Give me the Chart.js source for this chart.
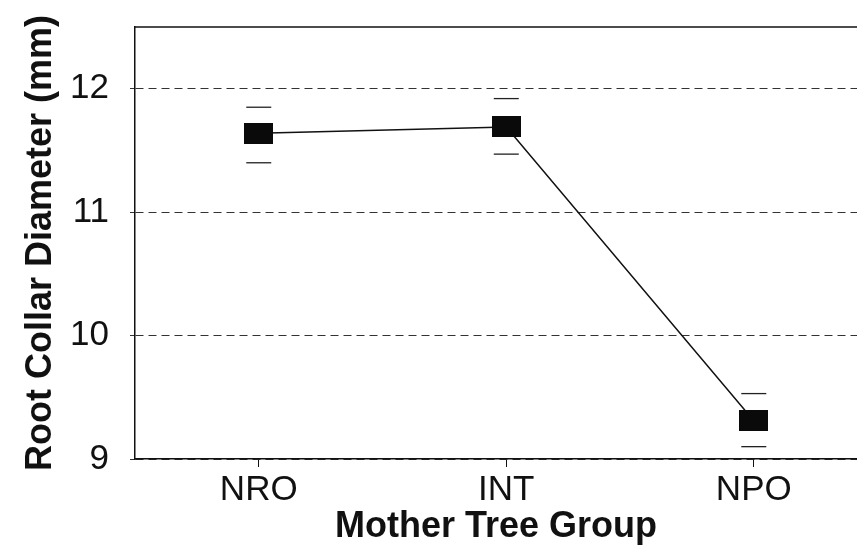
<!DOCTYPE html>
<html>
<head>
<meta charset="utf-8">
<script src="https://cdn.jsdelivr.net/npm/chart.js@4.4.1/dist/chart.umd.min.js"></script>
<style>
  html, body { margin: 0; padding: 0; background: #fff; overflow: hidden; }
  #wrap { width: 857px; height: 545px; }
</style>
</head>
<body>
<div id="wrap"><canvas id="rcdChart" width="857" height="545"></canvas></div>
<script>
// Mother tree groups and mean root collar diameter (mm)
const groups = ["NRO", "INT", "NPO"];
const groupPos = [1, 2, 3];
const meanRcd = [11.64, 11.69, 9.31];
const upperRcd = [11.85, 11.92, 9.53];
const lowerRcd = [11.40, 11.47, 9.10];
const yTicks = [9, 10, 11, 12];

const ctx = document.getElementById("rcdChart").getContext("2d");

// filled rectangle marker like the original plot
const marker = document.createElement("canvas");
marker.width = 29;
marker.height = 21;
const mctx = marker.getContext("2d");
mctx.fillStyle = "#0a0a0a";
mctx.fillRect(0, 0, 29, 21);

const toPoints = vals => vals.map((v, i) => ({ x: groupPos[i], y: v }));

// solid frame line along the top of the plot area
const topBorder = {
  id: "topBorder",
  afterDraw(chart) {
    const { ctx, chartArea } = chart;
    ctx.save();
    ctx.strokeStyle = "#111";
    ctx.lineWidth = 1.5;
    ctx.beginPath();
    ctx.moveTo(chartArea.left, chartArea.top);
    ctx.lineTo(chartArea.right, chartArea.top);
    ctx.stroke();
    ctx.restore();
  }
};

new Chart(ctx, {
  type: "line",
  data: {
    datasets: [
      {
        label: "Mean",
        data: toPoints(meanRcd),
        borderColor: "#111",
        borderWidth: 1.5,
        pointStyle: marker,
        tension: 0,
        order: 1
      },
      {
        label: "Upper",
        data: toPoints(upperRcd),
        showLine: false,
        pointStyle: "line",
        pointRadius: 12.5,
        borderColor: "#222",
        borderWidth: 1.3,
        order: 2
      },
      {
        label: "Lower",
        data: toPoints(lowerRcd),
        showLine: false,
        pointStyle: "line",
        pointRadius: 12.5,
        borderColor: "#222",
        borderWidth: 1.3,
        order: 2
      }
    ]
  },
  options: {
    responsive: false,
    animation: false,
    layout: { autoPadding: false, padding: { left: 0, top: 27, right: 0, bottom: 0 } },
    plugins: {
      legend: { display: false },
      tooltip: { enabled: false }
    },
    scales: {
      x: {
        type: "linear",
        min: 0.5,
        max: 3.417,
        afterBuildTicks: axis => { axis.ticks = groupPos.map(v => ({ value: v })); },
        afterFit: axis => {
          axis.height = 86;
          axis.paddingLeft = 0;
          axis.paddingRight = 0;
        },
        ticks: {
          callback: value => groups[value - 1],
          color: "#111",
          font: { family: "Liberation Sans", size: 35, lineHeight: 1 },
          padding: 6
        },
        grid: { drawOnChartArea: false, tickLength: 8, color: "#111" },
        border: { color: "#111", width: 1.5 },
        title: {
          display: true,
          text: "Mother Tree Group",
          color: "#111",
          font: { family: "Liberation Sans", size: 36, weight: "bold", lineHeight: 1 },
          padding: 0
        }
      },
      y: {
        min: 9,
        max: 12.5,
        afterBuildTicks: axis => { axis.ticks = yTicks.map(v => ({ value: v })); },
        afterFit: axis => {
          axis.width = 135;
          axis.paddingTop = 0;
          axis.paddingBottom = 0;
        },
        ticks: {
          color: "#111",
          font: { family: "Liberation Sans", size: 35, lineHeight: 1 },
          padding: 21
        },
        grid: { color: "#333", lineWidth: 1, tickLength: 5, tickBorderDash: [8, 5] },
        border: { color: "#111", width: 1.5, dash: [8, 5] },
        title: {
          display: true,
          text: "Root Collar Diameter (mm)",
          color: "#111",
          font: { family: "Liberation Sans", size: 36, weight: "bold", lineHeight: 1 },
          padding: { top: 23, bottom: 0 }
        }
      }
    }
  },
  plugins: [topBorder]
});
</script>
</body>
</html>
